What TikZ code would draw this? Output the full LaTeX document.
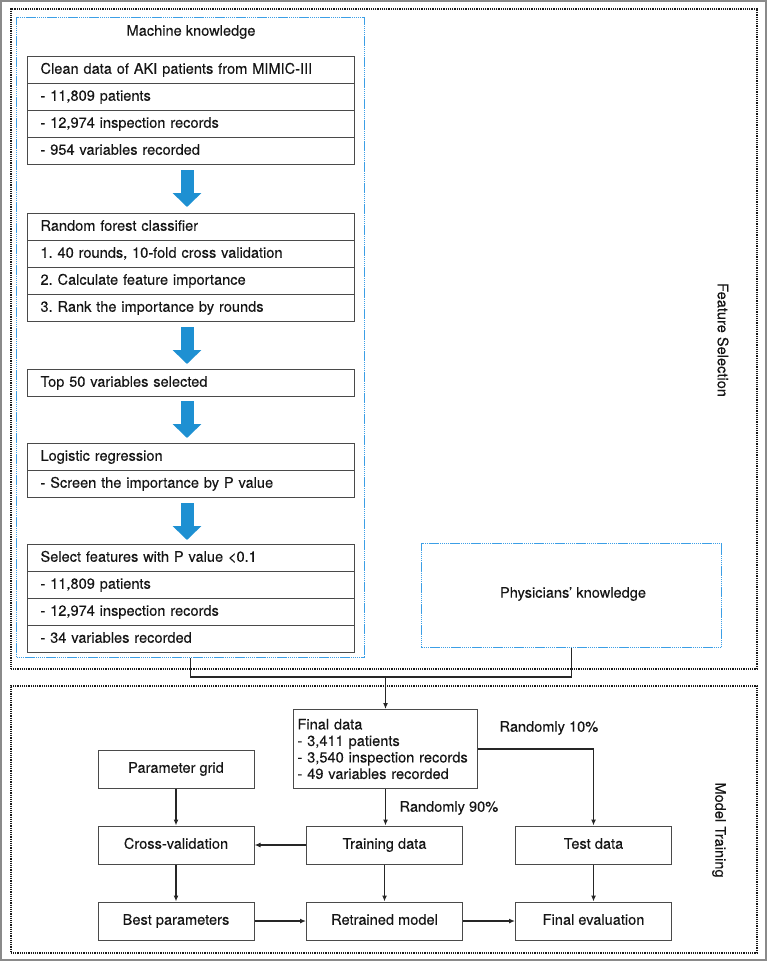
\documentclass[tikz,border=0pt]{standalone}
\usepackage{fontspec}
\setmainfont{TeX Gyre Heros}[FakeBold=0.12]
\usetikzlibrary{arrows.meta}
\definecolor{arrowblue}{HTML}{1E90D2}
\definecolor{dotblue}{HTML}{3C9FE6}
\definecolor{boxgray}{HTML}{4A4A4A}
\definecolor{txt}{HTML}{151515}
\definecolor{framegray}{HTML}{8A8A8A}
\begin{document}
\frenchspacing
\begin{tikzpicture}[x=1pt,y=-1pt,
  every node/.style={font=\fontsize{14.6}{16.5}\selectfont, text=txt},
  rowbox/.style={draw=boxgray, line width=1pt, minimum height=27pt, text width=301pt, inner xsep=13pt, inner ysep=0pt, align=left, anchor=north west, text height=10.5pt, text depth=3pt},
  bigarrow/.style={draw=arrowblue, line width=13pt, -{Triangle[width=28pt,length=14pt,fill=arrowblue]}},
  blackdot/.style={draw=black!90, line width=1.7pt, dash pattern=on 1.2pt off 1pt},
  bluedot/.style={draw=dotblue, line width=1.2pt, dash pattern=on 1.5pt off 0.6pt},
  stepbox/.style={draw=boxgray, line width=1pt, minimum width=156pt, minimum height=38pt, inner sep=0pt, text height=10.5pt, text depth=3pt},
  conn/.style={draw=black!85, line width=1.3pt},
  arr/.style={draw=black!85, line width=1.3pt, -{Latex[length=6pt,width=5pt]}}
]
\useasboundingbox (0,0) rectangle (767,961);
% outer frame
\draw[framegray, line width=1.5pt] (1,1) rectangle (766,960);
% section frames
\node[blackdot, minimum width=746pt, minimum height=660pt, anchor=north west, inner sep=0pt] (fs) at (10,8) {};
\node[blackdot, minimum width=746pt, minimum height=267pt, anchor=north west, inner sep=0pt] (mt) at (10,685) {};
\node[rotate=-90] (fslab) at (723,340) {Feature Selection};
\node[rotate=-90] (mtlab) at (719,830) {Model Training};
% machine knowledge
\node[bluedot, minimum width=348pt, minimum height=640pt, anchor=north west, inner sep=0pt] (mk) at (16,17) {};
\node (mktitle) at (191,32) {Machine knowledge};
% box 1
\node[rowbox] (r11) at (27,56) {Clean data of AKI patients from MIMIC-III};
\node[rowbox] (r12) at (27,83) {- 11,809 patients};
\node[rowbox] (r13) at (27,110) {- 12,974 inspection records};
\node[rowbox] (r14) at (27,137) {- 954 variables recorded};
% box 2
\node[rowbox] (r21) at (27,213) {Random forest classifier};
\node[rowbox] (r22) at (27,240) {1. 40 rounds, 10-fold cross validation};
\node[rowbox] (r23) at (27,267) {2. Calculate feature importance};
\node[rowbox] (r24) at (27,294) {3. Rank the importance by rounds};
% box 3
\node[rowbox] (r3) at (27,369) {Top 50 variables selected};
% box 4
\node[rowbox] (r41) at (27,443) {Logistic regression};
\node[rowbox] (r42) at (27,470) {- Screen the importance by P value};
% box 5
\node[rowbox] (r51) at (27,544) {Select features with P value <0.1};
\node[rowbox] (r52) at (27,571) {- 11,809 patients};
\node[rowbox] (r53) at (27,598) {- 12,974 inspection records};
\node[rowbox] (r54) at (27,625) {- 34 variables recorded};
% blue arrows
\draw[bigarrow] ([xshift=-4pt,yshift=-5pt]r14.south) -- ([xshift=-4pt,yshift=6pt]r21.north);
\draw[bigarrow] ([xshift=-4pt,yshift=-5pt]r24.south) -- ([xshift=-4pt,yshift=5pt]r3.north);
\draw[bigarrow] ([xshift=-4pt,yshift=-4pt]r3.south) -- ([xshift=-4pt,yshift=5pt]r41.north);
\draw[bigarrow] ([xshift=-4pt,yshift=-5pt]r42.south) -- ([xshift=-4pt,yshift=4pt]r51.north);
% physicians
\node[bluedot, minimum width=300pt, minimum height=104pt, anchor=north west, inner sep=0pt] (phys) at (421,543) {};
\node (physlab) at (573,594) {Physicians’ knowledge};
% final data
\node[draw=boxgray, line width=1pt, align=left, text width=176pt, inner xsep=4pt, inner ysep=0pt, minimum height=79pt, anchor=north west] (final) at (293,709) {Final data\\- 3,411 patients\\- 3,540 inspection records\\- 49 variables recorded};
\coordinate (join) at (final.north |- 0,677);
\draw[conn] (mk.south) -- (mk.south |- join) -- (phys.south |- join) -- (phys.south);
\draw[arr] (join) -- (final.north);
% model training boxes
\node[stepbox] (grid) at (176,769) {Parameter grid};
\node[stepbox] (cv) at (176,845) {Cross-validation};
\node[stepbox] (best) at (176,921) {Best parameters};
\node[stepbox] (train) at (384.5,845) {Training data};
\node[stepbox] (retrain) at (384.5,921) {Retrained model};
\node[stepbox] (test) at (593.5,845) {Test data};
\node[stepbox] (eval) at (593.5,921) {Final evaluation};
\draw[arr] (final.south) -- (final.south |- train.north);
\draw[arr] (final.east) -| (test.north);
\node[anchor=west] (l90) at (396,808) {Randomly 90\%};
\node[anchor=west] (l10) at (496,728) {Randomly 10\%};
\draw[arr] (grid) -- (cv);
\draw[arr] (train) -- (cv);
\draw[arr] (cv) -- (best);
\draw[arr] (train.south) -- (train.south |- retrain.north);
\draw[arr] (best) -- (retrain);
\draw[arr] (retrain) -- (eval);
\draw[arr] (test) -- (eval);
\end{tikzpicture}
\end{document}
